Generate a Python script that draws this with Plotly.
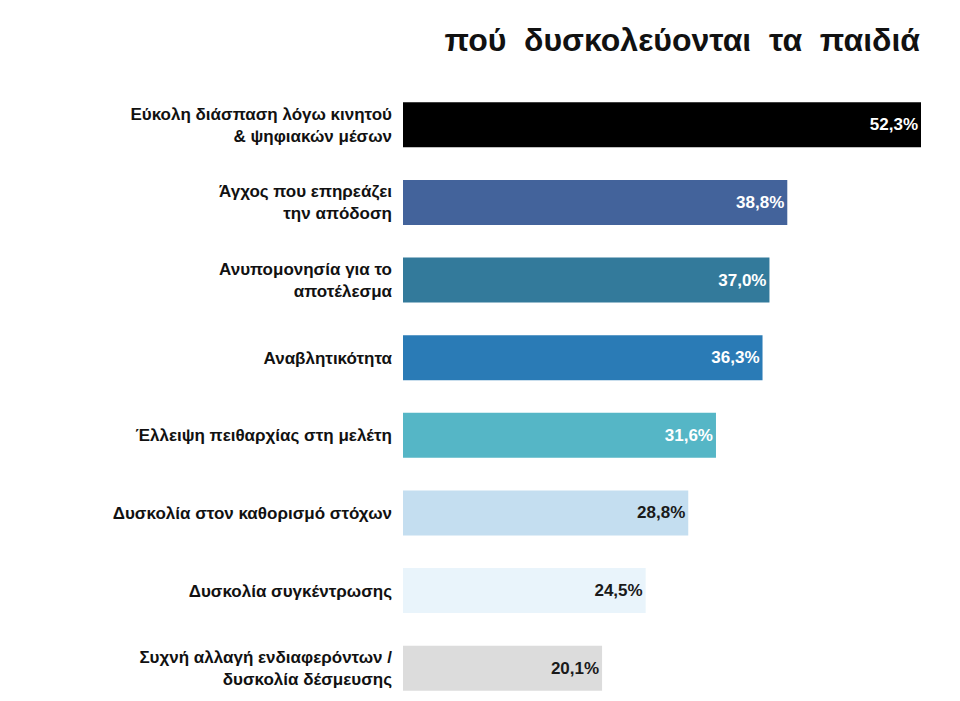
import plotly.graph_objects as go

categories = ["Εύκολη διάσπαση λόγω κινητού<br>& ψηφιακών μέσων",
              "Άγχος που επηρεάζει<br>την απόδοση",
              "Ανυπομονησία για το<br>αποτέλεσμα",
              "Αναβλητικότητα",
              "Έλλειψη πειθαρχίας στη μελέτη",
              "Δυσκολία στον καθορισμό στόχων",
              "Δυσκολία συγκέντρωσης",
              "Συχνή αλλαγή ενδιαφερόντων /<br>δυσκολία δέσμευσης"]
values = [52.3, 38.8, 37.0, 36.3, 31.6, 28.8, 24.5, 20.1]
labels = ["<b>52,3%</b>", "<b>38,8%</b>", "<b>37,0%</b>", "<b>36,3%</b>",
          "<b>31,6%</b>", "<b>28,8%</b>", "<b>24,5%</b>", "<b>20,1%</b>"]
colors = ["#000000", "#43639b", "#337a9b", "#2a7bb6", "#55b6c6", "#c4def0", "#e9f4fb", "#dcdcdc"]
text_colors = ["white"] * 5 + ["#1a1a1a"] * 3

fig = go.Figure(go.Bar(
    y=categories, x=values, orientation="h",
    marker=dict(color=colors, line=dict(width=0)),
    text=labels, textposition="inside", insidetextanchor="end",
    textfont=dict(color=text_colors, size=17, family="Liberation Sans"),
    width=0.58, cliponaxis=False,
))
fig.update_layout(
    width=960, height=701, plot_bgcolor="white", paper_bgcolor="white",
    margin=dict(l=395, r=47, t=78, b=2),
    showlegend=False,
    title=dict(text="<b>πού  δυσκολεύονται  τα  παιδιά</b>", x=0.95, xanchor="right",
               y=0.955, yanchor="middle",
               font=dict(size=32, color="#111", family="Liberation Sans")),
    font=dict(family="Liberation Sans", color="#111"),
)
fig.update_xaxes(visible=False, range=[0, 52.3])
fig.update_yaxes(autorange="reversed", showgrid=False, ticks="", ticklabelstandoff=10,
                 tickfont=dict(size=17, family="Liberation Sans", weight="bold"))
fig.write_html("out.html")
